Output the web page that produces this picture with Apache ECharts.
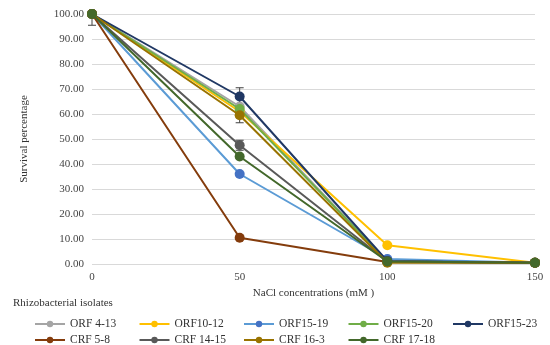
<!DOCTYPE html>
<html><head><meta charset="utf-8">
<script src="https://cdn.jsdelivr.net/npm/echarts@6/dist/echarts.min.js"></script>
<style>html,body{margin:0;padding:0;background:#fff}#c{width:550px;height:345px}</style>
</head><body><div id="c"></div>
<script>
var xValues = [0, 50, 100, 150];
var names = ['ORF 4-13','ORF10-12','ORF15-19','ORF15-20','ORF15-23','CRF 5-8','CRF 14-15','CRF 16-3','CRF 17-18'];
var ORF4_13  = [100, 63.0, 1.0, 0.5];
var ORF10_12 = [100, 61.0, 7.5, 0.5];
var ORF15_19 = [100, 36.0, 2.0, 0.5];
var ORF15_20 = [100, 62.0, 1.0, 0.5];
var ORF15_23 = [100, 67.0, 1.2, 0.5];
var CRF5_8   = [100, 10.5, 0.8, 0.5];
var CRF14_15 = [100, 47.5, 1.0, 0.5];
var CRF16_3  = [100, 59.5, 0.5, 0.5];
var CRF17_18 = [100, 43.0, 1.0, 0.5];
var errors = {
  'ORF15-23': [0, 3.5, 0, 0],
  'CRF 16-3': [0, 3.0, 0, 0],
  'CRF 14-15': [0, 2.0, 0, 0],
  'CRF 17-18': [4.5, 0, 0, 0]
};
var seriesData = [ORF4_13, ORF10_12, ORF15_19, ORF15_20, ORF15_23, CRF5_8, CRF14_15, CRF16_3, CRF17_18];
var lineColors = ['#a5a5a5','#ffc000','#5b9bd5','#70ad47','#203864','#843c0c','#595959','#997300','#43682b'];
var markColors = ['#a5a5a5','#ffc000','#4472c4','#70ad47','#203864','#843c0c','#595959','#997300','#43682b'];

var font = '"Liberation Serif", "DejaVu Serif", serif';
var series = [];
names.forEach(function(n, i){
  series.push({
    name: n, type: 'line', z: 2 + i,
    data: xValues.map(function(x, j){ return [x, seriesData[i][j]]; }),
    symbol: 'circle', symbolSize: 10,
    lineStyle: {color: lineColors[i], width: 2},
    itemStyle: {color: markColors[i]},
    emphasis: {disabled: true}
  });
});
var errData = [];
names.forEach(function(n, i){
  if (errors[n]) {
    xValues.forEach(function(x, j){
      if (errors[n][j] > 0) errData.push([x, seriesData[i][j], errors[n][j], i]);
    });
  }
});
series.push({
  type: 'custom', z: 1, silent: true,
  data: errData,
  renderItem: function(params, api){
    var x = api.value(0), y = api.value(1), e = api.value(2);
    var top = api.coord([x, Math.min(100, y + e)]);
    var bot = api.coord([x, y - e]);
    var c = api.coord([x, y]);
    var col = '#404040';
    var ch = [];
    ch.push({type:'line', shape:{x1:c[0],y1:top[1],x2:c[0],y2:bot[1]}, style:{stroke:col, lineWidth:1}});
    ch.push({type:'line', shape:{x1:c[0]-4,y1:top[1],x2:c[0]+4,y2:top[1]}, style:{stroke:col, lineWidth:1}});
    ch.push({type:'line', shape:{x1:c[0]-4,y1:bot[1],x2:c[0]+4,y2:bot[1]}, style:{stroke:col, lineWidth:1}});
    return {type:'group', children: ch};
  }
});

var legends = names.map(function(n, i){
  var col = i % 5, row = Math.floor(i / 5);
  return {
    left: 29 + col * 104.5, top: 313 + row * 16,
    itemWidth: 30, itemHeight: 8, itemGap: 4,
    textStyle: {fontFamily: font, fontSize: 11.5, color: '#333'},
    selectedMode: false, data: [n]
  };
});
var chart = echarts.init(document.getElementById('c'));
chart.setOption({
  animation: false,
  grid: {left: 92, right: 15, top: 14, bottom: 81},
  title: [
    {text: 'Rhizobacterial isolates', left: 8, top: 293, textStyle: {fontFamily: font, fontSize: 11, fontWeight: 'normal', color: '#333'}},
  ],
  legend: legends,
  xAxis: {
    type: 'value', min: 0, max: 150, interval: 50,
    name: 'NaCl concentrations (mM )', nameLocation: 'middle', nameGap: 24,
    nameTextStyle: {fontFamily: font, fontSize: 11, color: '#333'},
    axisLine: {show: false}, axisTick: {show: false},
    splitLine: {show: false},
    axisLabel: {fontFamily: font, fontSize: 11, color: '#444', margin: 8}
  },
  yAxis: {
    type: 'value', min: 0, max: 100, interval: 10,
    name: 'Survival percentage', nameLocation: 'middle', nameGap: 62,
    nameTextStyle: {fontFamily: font, fontSize: 11, color: '#333'},
    axisLine: {show: false}, axisTick: {show: false},
    splitLine: {lineStyle: {color: '#d9d9d9', width: 1}},
    axisLabel: {fontFamily: font, fontSize: 11, color: '#444', margin: 8,
      formatter: function(v){ return v.toFixed(2); }}
  },
  series: series
});
</script></body></html>
